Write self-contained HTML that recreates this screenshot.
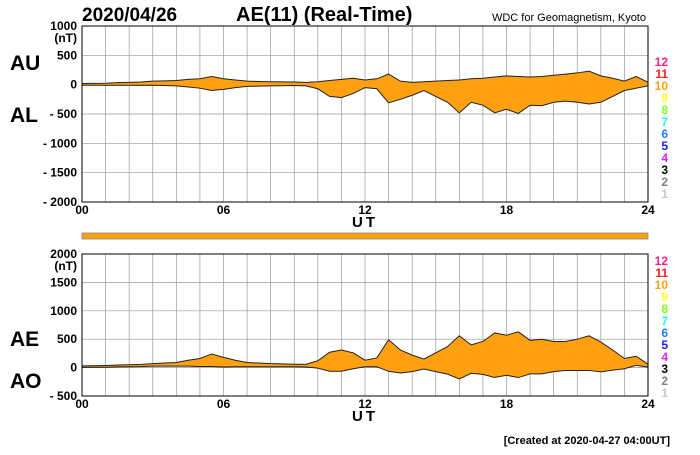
<!DOCTYPE html>
<html><head><meta charset="utf-8"><style>
body{margin:0;background:#fff;font-family:"Liberation Sans",sans-serif}
svg text{font-family:"Liberation Sans",sans-serif}
</style></head><body>
<svg id="c" width="700" height="450">
<text x="82" y="21" font-size="19" font-weight="bold">2020/04/26</text>
<text x="236" y="21" font-size="20" font-weight="bold">AE(11) (Real-Time)</text>
<text x="646" y="21" font-size="11" text-anchor="end">WDC for Geomagnetism, Kyoto</text>
<text x="10" y="70" font-size="21" font-weight="bold">AU</text>
<text x="10" y="122" font-size="21" font-weight="bold">AL</text>
<text x="10" y="346" font-size="21" font-weight="bold">AE</text>
<text x="10" y="388" font-size="21" font-weight="bold">AO</text>
<text x="670" y="444" font-size="11" font-weight="bold" text-anchor="end">[Created at 2020-04-27 04:00UT]</text>
</svg>
<script>
const hours=[0,0.5,1,1.5,2,2.5,3,3.5,4,4.5,5,5.5,6,6.5,7,7.5,8,8.5,9,9.5,10,10.5,11,11.5,12,12.5,13,13.5,14,14.5,15,15.5,16,16.5,17,17.5,18,18.5,19,19.5,20,20.5,21,21.5,22,22.5,23,23.5,24];
const au=[20,22,25,35,40,45,60,65,70,90,100,140,100,80,60,55,50,48,45,40,50,70,90,110,80,100,180,60,40,50,60,70,80,100,110,130,150,140,130,140,160,180,200,230,150,110,60,140,40];
const al=[-10,-10,-12,-10,-10,-12,-10,-15,-20,-40,-60,-100,-80,-50,-30,-25,-20,-18,-15,-20,-70,-200,-220,-150,-50,-70,-310,-250,-180,-100,-200,-300,-480,-300,-350,-480,-420,-490,-350,-360,-300,-280,-300,-330,-300,-200,-100,-60,-20];
const topTicks=[1000,500,0,-500,-1000,-1500,-2000];
const topTickLabels=["1000","500","0","- 500","- 1000","- 1500","- 2000"];
const botTicks=[2000,1500,1000,500,0,-500];
const botTickLabels=["2000","1500","1000","500","0","- 500"];
const xTicks=[0,6,12,18,24];
const xTickLabels=["00","06","12","18","24"];
const levelLabels=["12","11","10","9","8","7","6","5","4","3","2","1"];
const levelColors=["#ff2080","#ff2020","#ffa010","#ffff20","#80ff20","#20ffe0","#2080ff","#2020e0","#e020ff","#000","#808080","#c8c8c8"];
const ae=au.map((v,i)=>v-al[i]);
const ao=au.map((v,i)=>(v+al[i])/2);
const svg=document.getElementById('c');
const NS='http://www.w3.org/2000/svg';
function mk(t,a){const e=document.createElementNS(NS,t);for(const k in a)e.setAttribute(k,a[k]);svg.appendChild(e);return e;}
const X0=82,X1=648;
const xs=h=>X0+(X1-X0)*h/24;
function panel(name,yTop,yBot,vMax,vMin,ticks,tlabs,upper,lower,legTop){
  const ys=v=>yTop+(vMax-v)/(vMax-vMin)*(yBot-yTop);
  const bg=mk('rect',{x:X0,y:yTop,width:X1-X0,height:yBot-yTop,fill:'#fff',stroke:'#000'});
  
  
  for(let h=1;h<24;h++){const l=mk('line',{x1:xs(h),x2:xs(h),y1:yTop,y2:yBot,stroke:'#999','stroke-width':0.7});
    
    }
  ticks.forEach((t,i)=>{
    const l=mk('line',{x1:X0,x2:X1,y1:ys(t),y2:ys(t),stroke:'#999','stroke-width':0.7});
    
    
    const tx=mk('text',{x:77,y:ys(t)+4,'font-size':12,'font-weight':'bold','text-anchor':'end'});tx.textContent=tlabs[i];
    
    
  });
  const u=mk('text',{x:77,y:ys(ticks[0])+16,'font-size':12,'font-weight':'bold','text-anchor':'end'});u.textContent='(nT)';
  
  
  let d='M'+hours.map((h,i)=>xs(h)+','+ys(upper[i])).join('L');
  d+='L'+hours.slice().reverse().map((h,j)=>xs(h)+','+ys(lower[hours.length-1-j])).join('L')+'Z';
  const a=mk('path',{d:d,fill:'#ffa010',stroke:'none'});
  
  
  [upper,lower].forEach((s,k)=>{const p=mk('polyline',{points:hours.map((h,i)=>xs(h)+','+ys(s[i])).join(' '),fill:'none',stroke:'#222','stroke-width':1});
    
    });
  mk('rect',{x:X0,y:yTop,width:X1-X0,height:yBot-yTop,fill:'none',stroke:'#000'});
  xTicks.forEach((t,i)=>{const tx=mk('text',{x:xs(t),y:yBot+12,'font-size':12,'font-weight':'bold','text-anchor':'middle'});tx.textContent=xTickLabels[i];
    
    });
  const ut=mk('text',{x:365,y:yBot+25,'font-size':15,'font-weight':'bold','text-anchor':'middle','letter-spacing':'3'});ut.textContent='UT';
  
  
  levelLabels.forEach((l,i)=>{const tx=mk('text',{x:668,y:legTop+i*12,'font-size':12,'font-weight':'bold','text-anchor':'end',fill:levelColors[i]});tx.textContent=l;
    
    });
}
panel('top',26,202,1000,-2000,topTicks,topTickLabels,au,al,66);
panel('bottom',254,396,2000,-500,botTicks,botTickLabels,ae,ao,265);
const strip=mk('rect',{x:X0,y:233,width:X1-X0,height:6,fill:'#ffa010',stroke:'#888','stroke-width':0.8});


</script>
</body></html>
